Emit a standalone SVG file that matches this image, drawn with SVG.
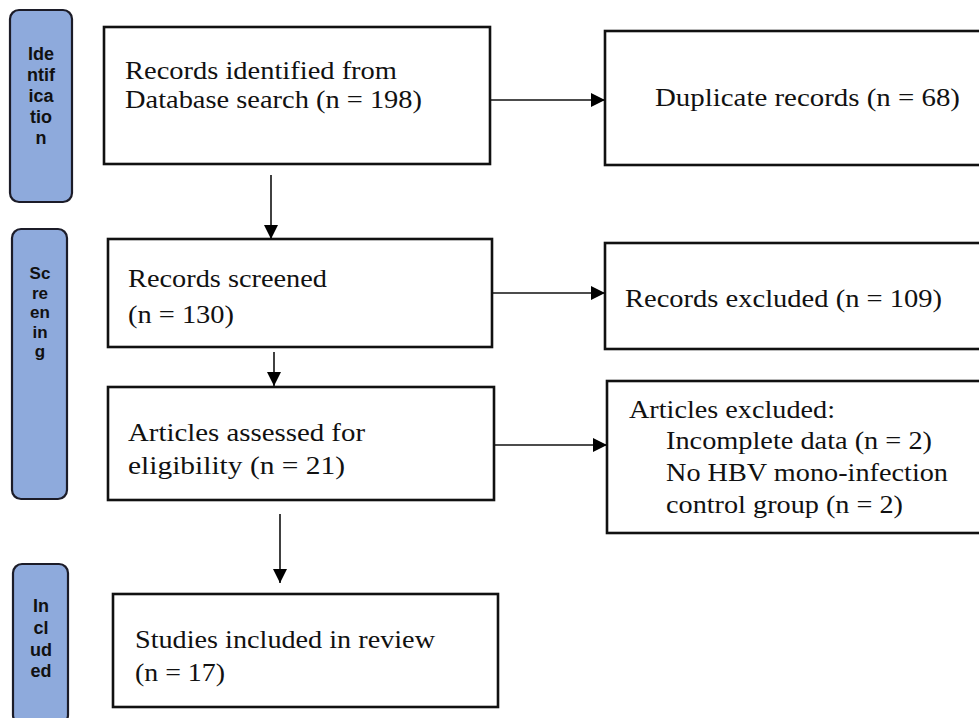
<svg xmlns="http://www.w3.org/2000/svg" width="979" height="718" viewBox="0 0 979 718">
<defs>
<marker id="ah" viewBox="0 0 10 10" refX="10" refY="5" markerWidth="14" markerHeight="14" markerUnits="userSpaceOnUse" orient="auto">
<path d="M0,0 L10,5 L0,10 z" fill="#000"/>
</marker>
<style>
.side{fill:#8eaadc;stroke:#1c1c28;stroke-width:2.2}
.st{font-family:"Liberation Sans",Arial,sans-serif;font-weight:bold;font-size:18px;fill:#111;text-anchor:middle}
.sm{font-size:17px}
.box{fill:#fff;stroke:#111;stroke-width:2.6}
.t{font-family:"Liberation Serif","Times New Roman",serif;font-size:25px;fill:#111}
.c{stroke:#111;stroke-width:1.6;fill:none;marker-end:url(#ah)}
</style>
</defs>
<rect width="979" height="718" fill="#fff"/>
<g id="stage-identification">
<rect class="side" x="10" y="10" width="62" height="192" rx="9"/>
<text class="st" x="41" y="60">Ide</text>
<text class="st" x="41" y="81">ntif</text>
<text class="st" x="41" y="102">ica</text>
<text class="st" x="41" y="123">tio</text>
<text class="st" x="41" y="144">n</text>
</g>
<g id="stage-screening">
<rect class="side" x="12" y="229" width="55" height="270" rx="9"/>
<text class="st sm" x="40" y="279">Sc</text>
<text class="st sm" x="40" y="298.5">re</text>
<text class="st sm" x="40" y="318">en</text>
<text class="st sm" x="40" y="337.5">in</text>
<text class="st sm" x="40" y="357">g</text>
</g>
<g id="stage-included">
<rect class="side" x="13" y="564" width="55" height="160" rx="9"/>
<text class="st" x="41" y="612">In</text>
<text class="st" x="41" y="634">cl</text>
<text class="st" x="41" y="656">ud</text>
<text class="st" x="41" y="677">ed</text>
</g>
<g id="records-identified">
<rect class="box" x="104" y="27" width="386" height="137"/>
<text class="t" x="125" y="79" textLength="272" lengthAdjust="spacingAndGlyphs">Records identified from</text>
<text class="t" x="125" y="108" textLength="297" lengthAdjust="spacingAndGlyphs">Database search (n = 198)</text>
</g>
<g id="duplicates">
<rect class="box" x="605" y="31" width="385" height="134"/>
<text class="t" x="655" y="106" textLength="305" lengthAdjust="spacingAndGlyphs">Duplicate records (n = 68)</text>
</g>
<g id="records-screened">
<rect class="box" x="108" y="239" width="384" height="108"/>
<text class="t" x="128" y="287" textLength="199" lengthAdjust="spacingAndGlyphs">Records screened</text>
<text class="t" x="128" y="323" textLength="106" lengthAdjust="spacingAndGlyphs">(n = 130)</text>
</g>
<g id="records-excluded">
<rect class="box" x="605" y="243" width="385" height="106"/>
<text class="t" x="625" y="307" textLength="317" lengthAdjust="spacingAndGlyphs">Records excluded (n = 109)</text>
</g>
<g id="articles-assessed">
<rect class="box" x="108" y="387" width="386" height="113"/>
<text class="t" x="128" y="441" textLength="237" lengthAdjust="spacingAndGlyphs">Articles assessed for</text>
<text class="t" x="128" y="474" textLength="217" lengthAdjust="spacingAndGlyphs">eligibility (n = 21)</text>
</g>
<g id="articles-excluded">
<rect class="box" x="607" y="381" width="383" height="152"/>
<text class="t" x="629" y="418" textLength="206" lengthAdjust="spacingAndGlyphs">Articles excluded:</text>
<text class="t" x="666" y="449" textLength="266" lengthAdjust="spacingAndGlyphs">Incomplete data (n = 2)</text>
<text class="t" x="666" y="481" textLength="282" lengthAdjust="spacingAndGlyphs">No HBV mono-infection</text>
<text class="t" x="666" y="513" textLength="237" lengthAdjust="spacingAndGlyphs">control group (n = 2)</text>
</g>
<g id="studies-included">
<rect class="box" x="113" y="594" width="385" height="113"/>
<text class="t" x="135" y="648" textLength="300" lengthAdjust="spacingAndGlyphs">Studies included in review</text>
<text class="t" x="135" y="681" textLength="90" lengthAdjust="spacingAndGlyphs">(n = 17)</text>
</g>
<g id="connectors">
<line class="c" x1="490" y1="100" x2="605" y2="100"/>
<line class="c" x1="271" y1="175" x2="271" y2="239"/>
<line class="c" x1="492" y1="293" x2="605" y2="293"/>
<line class="c" x1="274" y1="352" x2="274" y2="386"/>
<line class="c" x1="494" y1="445" x2="607" y2="445"/>
<line class="c" x1="280" y1="514" x2="280" y2="583"/>
</g>
</svg>
